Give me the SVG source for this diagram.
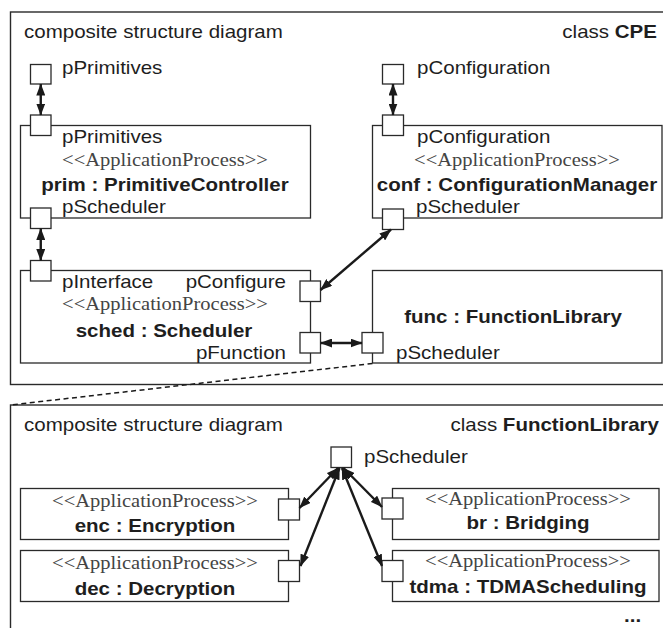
<svg xmlns="http://www.w3.org/2000/svg" width="663" height="628" viewBox="0 0 663 628">
  <defs>
    <style>
      .frame { fill: none; stroke: #2a2a2a; stroke-width: 1.4; }
      .part { fill: #ffffff; stroke: #2a2a2a; stroke-width: 1.3; }
      .port { fill: #ffffff; stroke: #2a2a2a; stroke-width: 1.3; }
      .conn { fill: none; stroke: #1a1a1a; stroke-width: 2.4; marker-start: url(#ah); marker-end: url(#ah); }
      .dash { fill: none; stroke: #1a1a1a; stroke-width: 1.5; stroke-dasharray: 5 3.5; }
      text { font-family: "Liberation Sans", Arial, Helvetica, sans-serif; font-size: 18px; fill: #1e1e1e; }
      .b { font-weight: bold; }
      .st { font-family: "Liberation Serif", "Times New Roman", serif; fill: #444444; }
      .mid { text-anchor: middle; }
      .end { text-anchor: end; }
    </style>
    <marker id="ah" viewBox="0 0 12 9" refX="11.5" refY="4.5" markerWidth="12" markerHeight="9" markerUnits="userSpaceOnUse" orient="auto-start-reverse">
      <path d="M0,0 L12,4.5 L0,9 z" fill="#1a1a1a"/>
    </marker>
  </defs>

  <!-- class CPE -->
  <g id="frame-cpe">
    <rect class="frame" x="10.5" y="12" width="700" height="372.5"/>
    <text transform="translate(24 38) scale(1.14 1)">composite structure diagram</text>
    <text class="end" transform="translate(657 38) scale(1.14 1)">class <tspan class="b">CPE</tspan></text>
  </g>

  <g id="port-cpe-pPrimitives">
    <rect class="port" x="30.5" y="64.5" width="20.5" height="19.5"/>
    <text transform="translate(62 74) scale(1.14 1)">pPrimitives</text>
  </g>

  <g id="port-cpe-pConfiguration">
    <rect class="port" x="382.5" y="64.5" width="21" height="19.5"/>
    <text transform="translate(417 74) scale(1.14 1)">pConfiguration</text>
  </g>

  <g id="prim">
    <rect class="part" x="20.5" y="125.5" width="290" height="92.5"/>
    <rect class="port" x="30.5" y="115" width="20.5" height="20.5"/>
    <rect class="port" x="30.5" y="208" width="20.5" height="20.5"/>
    <text transform="translate(62 143) scale(1.14 1)">pPrimitives</text>
    <text class="st mid" transform="translate(165 166) scale(1.14 1)">&lt;&lt;ApplicationProcess&gt;&gt;</text>
    <text class="b mid" transform="translate(165 191) scale(1.14 1)">prim : PrimitiveController</text>
    <text transform="translate(62 213) scale(1.14 1)">pScheduler</text>
  </g>

  <g id="conf">
    <rect class="part" x="372.5" y="125.5" width="289.5" height="92.5"/>
    <rect class="port" x="382.5" y="115" width="21" height="20.5"/>
    <rect class="port" x="382.5" y="209" width="21" height="20.5"/>
    <text transform="translate(417 143) scale(1.14 1)">pConfiguration</text>
    <text class="st mid" transform="translate(517 166) scale(1.14 1)">&lt;&lt;ApplicationProcess&gt;&gt;</text>
    <text class="b mid" transform="translate(517 191) scale(1.14 1)">conf : ConfigurationManager</text>
    <text transform="translate(416 213) scale(1.14 1)">pScheduler</text>
  </g>

  <g id="sched">
    <rect class="part" x="20.5" y="270.5" width="290" height="92.5"/>
    <rect class="port" x="30.5" y="260.5" width="20.5" height="20.5"/>
    <rect class="port" x="300" y="281" width="20.5" height="20.5"/>
    <rect class="port" x="300" y="332.5" width="20.5" height="20.5"/>
    <text transform="translate(62 288) scale(1.14 1)">pInterface</text>
    <text class="end" transform="translate(286 288) scale(1.14 1)">pConfigure</text>
    <text class="st mid" transform="translate(165 310) scale(1.14 1)">&lt;&lt;ApplicationProcess&gt;&gt;</text>
    <text class="b mid" transform="translate(164 337) scale(1.14 1)">sched : Scheduler</text>
    <text class="end" transform="translate(286 359) scale(1.14 1)">pFunction</text>
  </g>

  <g id="func">
    <rect class="part" x="372.5" y="270.5" width="289.5" height="92.5"/>
    <rect class="port" x="362" y="332.5" width="21" height="20.5"/>
    <text class="b mid" transform="translate(513 323) scale(1.14 1)">func : FunctionLibrary</text>
    <text transform="translate(396 359) scale(1.14 1)">pScheduler</text>
  </g>

  <!-- class FunctionLibrary -->
  <g id="frame-functionlibrary">
    <rect class="frame" x="10.5" y="405" width="700" height="300"/>
    <text transform="translate(24 431) scale(1.14 1)">composite structure diagram</text>
    <text class="end" transform="translate(659 431) scale(1.14 1)">class <tspan class="b">FunctionLibrary</tspan></text>
    <text class="b" transform="translate(624 622) scale(1.14 1)">...</text>
  </g>

  <g id="port-functionlibrary-pScheduler">
    <rect class="port" x="331" y="447" width="20.5" height="20.5"/>
    <text transform="translate(364 463) scale(1.14 1)">pScheduler</text>
  </g>

  <g id="enc">
    <rect class="part" x="20.5" y="488.5" width="268" height="51"/>
    <rect class="port" x="278.5" y="499" width="21" height="21"/>
    <text class="st mid" transform="translate(155 506.5) scale(1.14 1)">&lt;&lt;ApplicationProcess&gt;&gt;</text>
    <text class="b mid" transform="translate(155 532) scale(1.14 1)">enc : Encryption</text>
  </g>

  <g id="dec">
    <rect class="part" x="20.5" y="550.5" width="268" height="51"/>
    <rect class="port" x="278.5" y="560.5" width="21" height="21"/>
    <text class="st mid" transform="translate(155 568.5) scale(1.14 1)">&lt;&lt;ApplicationProcess&gt;&gt;</text>
    <text class="b mid" transform="translate(155 594.5) scale(1.14 1)">dec : Decryption</text>
  </g>

  <g id="br">
    <rect class="part" x="392.5" y="488.5" width="266.5" height="51"/>
    <rect class="port" x="382" y="498" width="21" height="21"/>
    <text class="st mid" transform="translate(528 505) scale(1.14 1)">&lt;&lt;ApplicationProcess&gt;&gt;</text>
    <text class="b mid" transform="translate(528 529) scale(1.14 1)">br : Bridging</text>
  </g>

  <g id="tdma">
    <rect class="part" x="392.5" y="550.5" width="266.5" height="51"/>
    <rect class="port" x="382" y="560.5" width="21" height="21"/>
    <text class="st mid" transform="translate(528 567) scale(1.14 1)">&lt;&lt;ApplicationProcess&gt;&gt;</text>
    <text class="b mid" transform="translate(528 593) scale(1.14 1)">tdma : TDMAScheduling</text>
  </g>

  <!-- connectors -->
  <g id="connectors">
    <line class="conn" x1="40.75" y1="84" x2="40.75" y2="115"/>
    <line class="conn" x1="393" y1="84" x2="393" y2="115"/>
    <line class="conn" x1="40.75" y1="228.5" x2="40.75" y2="260.5"/>
    <line class="conn" x1="391" y1="229.5" x2="320.5" y2="290"/>
    <line class="conn" x1="320.5" y1="343" x2="362" y2="343"/>
    <line class="conn" x1="338" y1="468" x2="299.5" y2="508"/>
    <line class="conn" x1="339.5" y1="468" x2="300.5" y2="566"/>
    <line class="conn" x1="343.5" y1="468" x2="382" y2="507"/>
    <line class="conn" x1="342" y1="468" x2="382" y2="566"/>
    <line class="dash" x1="372.5" y1="363.5" x2="10.5" y2="405"/>
  </g>
</svg>
